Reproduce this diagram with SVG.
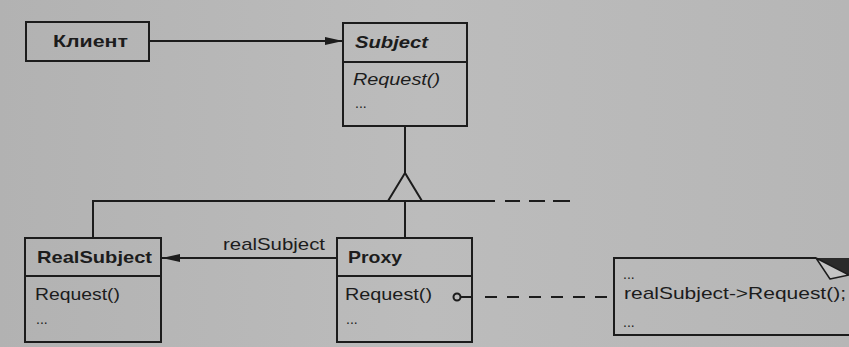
<svg xmlns="http://www.w3.org/2000/svg" width="849" height="347" viewBox="0 0 849 347">
<defs>
<marker id="filled" viewBox="0 0 18 10" refX="18" refY="5" markerWidth="18" markerHeight="10" markerUnits="userSpaceOnUse" orient="auto">
<path d="M0,1 L18,5 L0,9 Z" fill="#1c1c1c"/>
</marker>
<linearGradient id="bg" x1="0" y1="0" x2="1" y2="0">
<stop offset="0" stop-color="#b2b2b2"/>
<stop offset="0.5" stop-color="#bcbcbc"/>
<stop offset="1" stop-color="#b6b6b6"/>
</linearGradient>
</defs>
<style>
.box{fill:none;stroke:#1c1c1c;stroke-width:2}
.ln{fill:none;stroke:#1c1c1c;stroke-width:2}
.dash{fill:none;stroke:#1c1c1c;stroke-width:2;stroke-dasharray:12 10}
text{font-family:"Liberation Sans",Arial,sans-serif;fill:#1c1c1c;font-size:17px}
.b{font-weight:bold}
.bi{font-weight:bold;font-style:italic}
.i{font-style:italic}
.dots{font-size:14px}
</style>
<rect width="849" height="347" fill="url(#bg)"/>

<g id="client">
<rect class="box" x="26" y="22" width="123" height="39"/>
<text class="b" x="53" y="47" textLength="75" lengthAdjust="spacingAndGlyphs">Клиент</text>
</g>

<g id="subject">
<rect class="box" x="343" y="23" width="124" height="103"/>
<line class="ln" x1="343" y1="62" x2="467" y2="62"/>
<text class="bi" x="355" y="48" textLength="73" lengthAdjust="spacingAndGlyphs">Subject</text>
<text class="i" x="353" y="85" textLength="87" lengthAdjust="spacingAndGlyphs">Request()</text>
<text class="dots" x="355" y="108">...</text>
</g>

<g id="realsubject">
<rect class="box" x="25" y="238" width="136" height="104"/>
<line class="ln" x1="25" y1="276" x2="161" y2="276"/>
<text class="b" x="37" y="263" textLength="115" lengthAdjust="spacingAndGlyphs">RealSubject</text>
<text x="35" y="300" textLength="85" lengthAdjust="spacingAndGlyphs">Request()</text>
<text class="dots" x="36" y="324">...</text>
</g>

<g id="proxy">
<rect class="box" x="337" y="238" width="135" height="104"/>
<line class="ln" x1="337" y1="276" x2="472" y2="276"/>
<text class="b" x="348" y="263" textLength="54" lengthAdjust="spacingAndGlyphs">Proxy</text>
<text x="345" y="300" textLength="87" lengthAdjust="spacingAndGlyphs">Request()</text>
<text class="dots" x="346" y="324">...</text>
</g>

<g id="note">
<path class="ln" d="M816,258 H614 V335 H849"/>
<polygon points="816,258 849,258 849,275" fill="#2a2a2a"/>
<polygon points="816,258 830,279 849,275" fill="#c4c4c4" stroke="#1c1c1c" stroke-width="1.5" stroke-linejoin="round"/>
<text class="dots" x="623" y="279">...</text>
<text x="624" y="299" textLength="222" lengthAdjust="spacingAndGlyphs">realSubject-&gt;Request();</text>
<text class="dots" x="623" y="327">...</text>
</g>

<g id="connectors">
<line class="ln" x1="149" y1="41" x2="343" y2="41" marker-end="url(#filled)"/>
<line class="ln" x1="405" y1="126" x2="405" y2="173"/>
<polygon points="405,173 388,201 422,201" fill="none" stroke="#1c1c1c" stroke-width="2" stroke-linejoin="miter"/>
<line class="ln" x1="93" y1="201" x2="495" y2="201"/>
<path class="ln" d="M505,201 H520 M529,201 H545 M553,201 H570"/>
<line class="ln" x1="93" y1="200" x2="93" y2="238"/>
<line class="ln" x1="405" y1="201" x2="405" y2="238"/>
<line class="ln" x1="337" y1="258" x2="162" y2="258" marker-end="url(#filled)"/>
<text x="223" y="250" textLength="102" lengthAdjust="spacingAndGlyphs">realSubject</text>
<circle cx="457" cy="297" r="3.5" fill="none" stroke="#1c1c1c" stroke-width="2"/>
<line class="ln" x1="460.5" y1="297" x2="472" y2="297"/>
<line class="dash" x1="485" y1="297" x2="614" y2="297"/>
</g>
</svg>
